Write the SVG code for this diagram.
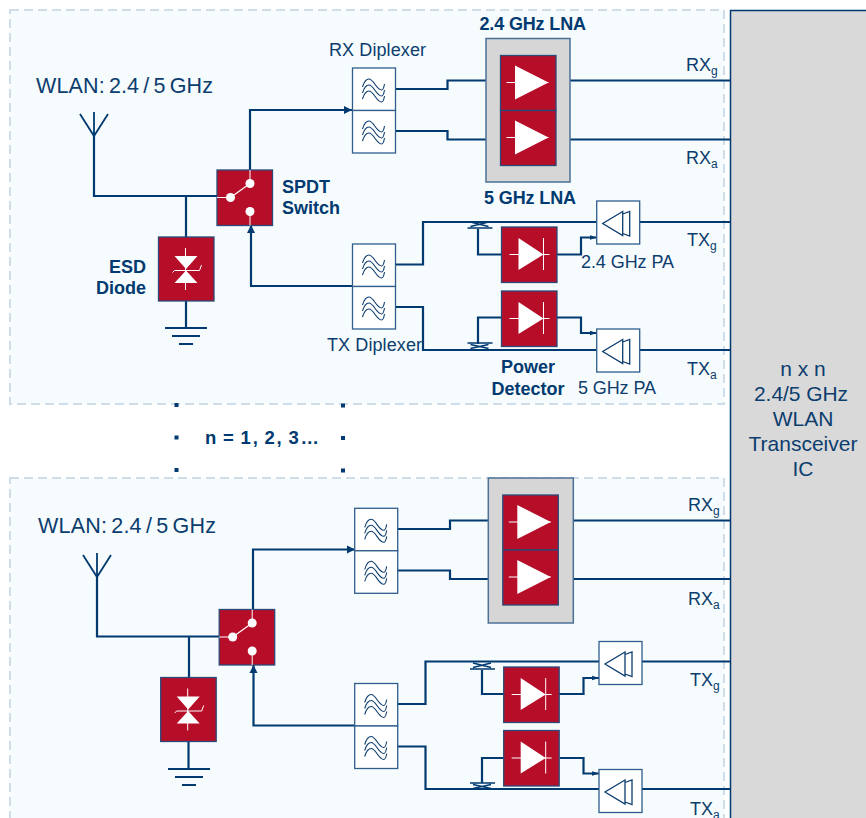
<svg xmlns="http://www.w3.org/2000/svg" xmlns:xlink="http://www.w3.org/1999/xlink" width="866" height="818" viewBox="0 0 866 818">
<style>
text{font-family:"Liberation Sans",Arial,sans-serif;fill:#0c3d6e;font-size:18px}
.b{font-weight:bold;fill:#003a70;font-size:18px}
.w{font-size:21px}
.wl2{font-size:21.500px;word-spacing:-2px}
.m{text-anchor:middle}
.e{text-anchor:end}
.panel{fill:#f6fbfd;stroke:#cfdde9;stroke-width:2;stroke-dasharray:9 5}
.c{fill:none;stroke:#003a70;stroke-width:2.2}
.t{fill:none;stroke:#003a70;stroke-width:1.500}
.red{fill:#b60d28;stroke:#2a4a78;stroke-width:1.300}
.box{fill:#fff;stroke:#2f5d8c;stroke-width:1.300}
.gray{fill:#d6d6d6;stroke:#4d7196;stroke-width:1.500}
.wl{stroke:#fff;stroke-width:1;fill:none}
.wf{fill:#fff;stroke:none}
.ic{fill:none;stroke:#0c3d6e;stroke-width:1.100}
.dot{fill:#003a70}
</style>
<defs>
<marker id="big" markerUnits="userSpaceOnUse" markerWidth="10" markerHeight="10" refX="9" refY="5" orient="auto"><path d="M1 1 L9 5 L1 9Z" fill="#003a70"/></marker>
<marker id="small" markerUnits="userSpaceOnUse" markerWidth="8" markerHeight="6" refX="7" refY="3" orient="auto"><path d="M0 .7 L7 3 L0 5.300Z" fill="#003a70"/></marker>
<path id="wave" class="ic" d="M-11 -2 C-9.500 -7 -7 -10 -4.500 -10 C0 -10 3 1 8 1 C9.500 1 10.500 -2 11 -5"/>
<g id="filter"><use xlink:href="#wave" href="#wave"/><use xlink:href="#wave" href="#wave" y="6"/><use xlink:href="#wave" href="#wave" y="12"/></g>
<g id="diplexer"><rect class="box" x="0" y="0" width="43" height="42.500"/><rect class="box" x="0" y="42.500" width="43" height="42.500"/><use xlink:href="#filter" href="#filter" x="21" y="21"/><use xlink:href="#filter" href="#filter" x="21" y="63"/></g>
<g id="lna"><rect class="red" x="0" y="0" width="55.500" height="55"/><path class="wl" d="M6 27H48"/><path class="wf" d="M14.500 10 L48 27 L14.500 44Z"/></g>
<g id="det"><rect class="red" x="0" y="0" width="55.500" height="55.500"/><path class="wl" d="M8 27.500H48M42 11V43"/><path class="wf" d="M17 11 L42 27.500 L17 43Z"/></g>
<g id="pa"><rect class="box" x="0" y="0" width="43" height="43"/><path class="ic" style="stroke-width:1.300" d="M26 10.500 L6 22.500 L26 34.500Z M26 13 L33 10.500 V35 L26 32.500"/></g>
<g id="sw"><rect class="red" x="0" y="0" width="55.500" height="55.500"/><path class="wl" d="M33 0V13M33 41V55.500M0 27.500H13"/><path d="M13.500 27.500 L33 13.500" stroke="#fff" stroke-width="1.200"/><circle class="wf" cx="33" cy="13.500" r="4.500"/><circle class="wf" cx="13.500" cy="27.500" r="4.500"/><circle class="wf" cx="33" cy="41.500" r="4.500"/></g>
<g id="esd"><rect class="red" x="0" y="0" width="55.500" height="64"/><path class="wl" d="M27 11V53M14 35.500L16 33.500H41L43 28"/><path class="wf" d="M16 19H39L27.500 32ZM16 46H39L27.500 33.500Z"/></g>
<g id="ant"><path class="c" style="stroke-width:1.800" d="M0 0V24M-14 2L0 24L14 2"/></g>
<g id="gnd"><path class="c" d="M-21 0H21M-14 8H14M-7 16H7"/></g>
<g id="cpl"><path class="t" d="M-12 5H13M-9 -1L9 3.500M9 -1L-9 3.500"/></g>
<g id="cplb"><path class="t" d="M-12 0H13M-9 1.500L9 5.500M9 1.500L-9 5.500"/></g>
</defs>

<rect width="866" height="818" fill="#fff"/>
<rect id="panel-top" class="panel" x="10" y="10" width="714" height="394"/>
<rect id="panel-bottom" class="panel" x="10" y="478" width="714" height="360"/>
<rect id="ic" x="730.500" y="10.500" width="150" height="830" fill="#d9d9d9" stroke="#003a70" stroke-width="1.500"/>

<g id="connectors">
<path class="c" d="M94 136V196H217M186 196V237M186 301V328"/>
<path class="c" marker-end="url(#big)" d="M250 170V110H352"/>
<path class="c" marker-end="url(#big)" d="M352 286H251V225"/>
<path class="c" d="M395 89H447.500V80.500H486M395 131H447.500V139.500H486M570 80.500H730M570 139.500H730"/>
<path class="c" d="M395 264.500H423V222H597M640 222H730M395 307H423V350H597M640 350H730"/>
<path class="c" d="M478 229V254.500H501.500M478 344V317.500H501.500"/>
<path class="c" marker-end="url(#small)" d="M557 254.500H581V237.500H597"/>
<path class="c" marker-end="url(#small)" d="M557 317.500H581V333H597"/>

<path class="c" d="M97 577V636.500H219M189 636.500V678M188.500 741V769"/>
<path class="c" marker-end="url(#big)" d="M253 609V549.500H355"/>
<path class="c" marker-end="url(#big)" d="M355 725.500H253.500V665"/>
<path class="c" d="M398 529H450V520.500H488M398 570.500H450V579H488M573 520.500H730M573 579H730"/>
<path class="c" d="M398 704H425.500V661.500H599M642 661.500H730M398 746.500H425.500V789H599M642 789H730"/>
<path class="c" d="M482 670V694H504M482 783V758H504"/>
<path class="c" marker-end="url(#small)" d="M559 694H583.500V678H599"/>
<path class="c" marker-end="url(#small)" d="M560 758H583.500V773.500H599"/>
</g>

<g id="top-antenna"><use xlink:href="#ant" href="#ant" x="94" y="112"/></g>
<g id="top-ground"><use xlink:href="#gnd" href="#gnd" x="186" y="328"/></g>
<g id="top-switch"><use xlink:href="#sw" href="#sw" x="217" y="170"/></g>
<g id="top-esd"><use xlink:href="#esd" href="#esd" x="158.500" y="237"/></g>
<g id="top-rx-diplexer"><use xlink:href="#diplexer" href="#diplexer" x="352.500" y="68"/></g>
<g id="top-tx-diplexer"><use xlink:href="#diplexer" href="#diplexer" x="352.500" y="244"/></g>
<g id="top-lna"><rect class="gray" x="486" y="38.500" width="84" height="143.500"/><use xlink:href="#lna" href="#lna" x="500.500" y="55.500"/><use xlink:href="#lna" href="#lna" x="500.500" y="110.500"/></g>
<g id="top-det-g"><use xlink:href="#det" href="#det" x="501.500" y="227"/><use xlink:href="#cpl" href="#cpl" x="479.500" y="223"/></g>
<g id="top-det-a"><use xlink:href="#det" href="#det" x="501.500" y="291"/><use xlink:href="#cplb" href="#cplb" x="479.500" y="343"/></g>
<g id="top-pa-g"><use xlink:href="#pa" href="#pa" x="596.700" y="201"/></g>
<g id="top-pa-a"><use xlink:href="#pa" href="#pa" x="596.700" y="329"/></g>

<g id="bot-antenna"><use xlink:href="#ant" href="#ant" x="97" y="553"/></g>
<g id="bot-ground"><use xlink:href="#gnd" href="#gnd" x="189" y="769"/></g>
<g id="bot-switch"><use xlink:href="#sw" href="#sw" x="219.200" y="609.500"/></g>
<g id="bot-esd"><use xlink:href="#esd" href="#esd" x="160.700" y="677.500"/></g>
<g id="bot-rx-diplexer"><use xlink:href="#diplexer" href="#diplexer" x="354.700" y="508.300"/></g>
<g id="bot-tx-diplexer"><use xlink:href="#diplexer" href="#diplexer" x="354.700" y="683.500"/></g>
<g id="bot-lna"><rect class="gray" x="488.300" y="478" width="85" height="145"/><use xlink:href="#lna" href="#lna" x="502.800" y="495"/><use xlink:href="#lna" href="#lna" x="502.800" y="550"/></g>
<g id="bot-det-g"><use xlink:href="#det" href="#det" x="503.700" y="667"/><use xlink:href="#cpl" href="#cpl" x="482" y="664"/></g>
<g id="bot-det-a"><use xlink:href="#det" href="#det" x="503.700" y="730.500"/><use xlink:href="#cplb" href="#cplb" x="482" y="783"/></g>
<g id="bot-pa-g"><use xlink:href="#pa" href="#pa" x="599" y="641.500"/></g>
<g id="bot-pa-a"><use xlink:href="#pa" href="#pa" x="599" y="769.500"/></g>

<g id="dots">
<rect class="dot" x="174.500" y="403" width="4" height="4"/><rect class="dot" x="174.500" y="435.500" width="4" height="4"/><rect class="dot" x="174.500" y="468" width="4" height="4"/>
<rect class="dot" x="341" y="403.500" width="4" height="4"/><rect class="dot" x="341" y="436" width="4" height="4"/><rect class="dot" x="341" y="468.500" width="4" height="4"/>
</g>

<g id="labels">
<text class="wl2" x="36" y="92.500" textLength="177">WLAN: 2.4 / 5 GHz</text>
<text x="329" y="56" textLength="97">RX Diplexer</text>
<text x="327" y="351" textLength="95">TX Diplexer</text>
<text class="b" x="479.500" y="30" textLength="106.500">2.4 GHz LNA</text>
<text class="b" x="484" y="204" textLength="92">5 GHz LNA</text>
<text class="b" x="282" y="193">SPDT</text>
<text class="b" x="282" y="214">Switch</text>
<text class="b e" x="146" y="272.500">ESD</text>
<text class="b e" x="146" y="294">Diode</text>
<text class="b m" x="528" y="373">Power</text>
<text class="b m" x="528" y="395">Detector</text>
<text x="581" y="268" textLength="93">2.4 GHz PA</text>
<text x="578" y="394" textLength="78">5 GHz PA</text>
<text x="686" y="71">RX<tspan font-size="12" dy="4">g</tspan></text>
<text x="686" y="164">RX<tspan font-size="12" dy="4">a</tspan></text>
<text x="687" y="246">TX<tspan font-size="12" dy="4">g</tspan></text>
<text x="687" y="375">TX<tspan font-size="12" dy="4">a</tspan></text>
<text class="b" x="205" y="444" style="font-size:18.500px;word-spacing:-2px" textLength="114">n = 1, 2, 3…</text>
<text class="wl2" x="38" y="533" textLength="178">WLAN: 2.4 / 5 GHz</text>
<text x="688" y="511">RX<tspan font-size="12" dy="4">g</tspan></text>
<text x="688" y="605">RX<tspan font-size="12" dy="4">a</tspan></text>
<text x="690" y="686">TX<tspan font-size="12" dy="4">g</tspan></text>
<text x="690" y="815">TX<tspan font-size="12" dy="4">a</tspan></text>
<text class="w m" x="803" y="376">n x n</text>
<text class="w m" x="801" y="401" textLength="94">2.4/5 GHz</text>
<text class="w m" x="803" y="426">WLAN</text>
<text class="w m" x="803" y="451">Transceiver</text>
<text class="w m" x="803" y="476">IC</text>
</g>
</svg>
